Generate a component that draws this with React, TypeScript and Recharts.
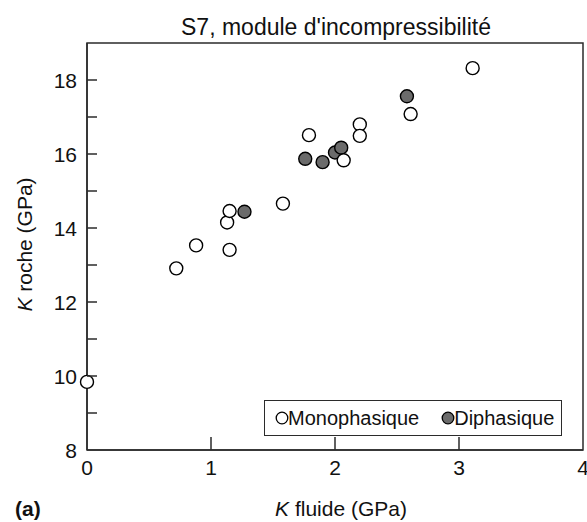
import React from "react";
import {
  ScatterChart,
  Scatter,
  XAxis,
  YAxis,
  ReferenceArea,
  Legend,
} from "recharts";

const FONT = '"Liberation Sans", Arial, Helvetica, sans-serif';

const titleText = "S7, module d'incompressibilité";
const xLabel = " fluide (GPa)";
const yLabel = " roche (GPa)";
const panelLabel = "(a)";

const monoX = [0, 0.72, 0.88, 1.15, 1.13, 1.15, 1.58, 1.79, 2.07, 2.2, 2.2, 2.61, 3.11];
const monoY = [9.84, 12.91, 13.53, 13.41, 14.15, 14.46, 14.66, 16.51, 15.83, 16.8, 16.49, 17.08, 18.32];
const diX = [1.27, 1.76, 1.9, 2.0, 2.05, 2.58];
const diY = [14.44, 15.87, 15.78, 16.04, 16.17, 17.56];

const xTicks = [0, 1, 2, 3, 4];
const yTicks = [8, 9, 10, 11, 12, 13, 14, 15, 16, 17, 18];
const xDomain = [0, 4];
const yDomain = [8, 19];

const monoData = monoX.map((x, i) => ({ x, y: monoY[i] }));
const diData = diX.map((x, i) => ({ x, y: diY[i] }));

const AXIS = "#2b2b2b";
const DARK = "#6b6b6b";

const XTick = (props: any) => {
  const { x, y, payload } = props;
  const v = payload.value;
  return (
    <g>
      {v > 0 && v < 4 && (
        <line x1={x} x2={x} y1={y} y2={y - 13} stroke={AXIS} strokeWidth={1.5} />
      )}
      <text x={x} y={y + 25} textAnchor="middle" fontSize={21} fontFamily={FONT} fill="#111">
        {v}
      </text>
    </g>
  );
};

const YTick = (props: any) => {
  const { x, y, payload } = props;
  const v = payload.value;
  return (
    <g>
      {v > 8 && (
        <line x1={x} x2={x + 10} y1={y} y2={y} stroke={AXIS} strokeWidth={1.5} />
      )}
      {v % 2 === 0 && (
        <text x={x - 10} y={y} dy="0.36em" textAnchor="end" fontSize={21} fontFamily={FONT} fill="#111">
          {v}
        </text>
      )}
    </g>
  );
};

const Dot = (fill: string) => (props: any) => {
  const { cx, cy } = props;
  if (cx == null || cy == null) return null;
  return <circle cx={cx} cy={cy} r={6.5} fill={fill} stroke="#000" strokeWidth={1.4} />;
};

const TitleContent = (props: any) => {
  const vb = props.viewBox || {};
  return (
    <text
      x={vb.x + vb.width / 2 + 1}
      y={vb.y - 8}
      textAnchor="middle"
      fontSize={23}
      fontFamily={FONT}
      fill="#111"
    >
      {titleText}
    </text>
  );
};

const XLabelContent = (props: any) => {
  const vb = props.viewBox || {};
  const by = vb.y + 66;
  return (
    <g>
      <text x={vb.x + vb.width / 2 + 6} y={by} textAnchor="middle" fontSize={21} fontFamily={FONT} fill="#111">
        <tspan fontStyle="italic">K</tspan>
        {xLabel}
      </text>
      <text x={15} y={by} fontSize={21} fontWeight="bold" fontFamily={FONT} fill="#111">
        {panelLabel}
      </text>
    </g>
  );
};

const YLabelContent = (props: any) => {
  const vb = props.viewBox || {};
  const cy = vb.y + vb.height / 2 - 2;
  const cx = 32;
  return (
    <text
      x={cx}
      y={cy}
      transform={`rotate(-90 ${cx} ${cy})`}
      textAnchor="middle"
      fontSize={21}
      fontFamily={FONT}
      fill="#111"
    >
      <tspan fontStyle="italic">K</tspan>
      {yLabel}
    </text>
  );
};

const LegendContent = () => (
  <div
    style={{
      boxSizing: "border-box",
      width: "100%",
      height: "100%",
      border: `1.5px solid ${AXIS}`,
      background: "#fff",
      display: "flex",
      alignItems: "center",
      fontFamily: FONT,
      fontSize: 20,
      color: "#111",
      paddingLeft: 10,
    }}
  >
    <svg width={14} height={14} style={{ marginRight: -1 }}>
      <circle cx={7} cy={7} r={5.8} fill="#fff" stroke="#000" strokeWidth={1.3} />
    </svg>
    <span>Monophasique</span>
    <svg width={14} height={14} style={{ marginLeft: 22, marginRight: -1 }}>
      <circle cx={7} cy={7} r={5.8} fill={DARK} stroke="#000" strokeWidth={1.3} />
    </svg>
    <span>Diphasique</span>
  </div>
);

export default function App() {
  return (
    <div style={{ position: "absolute", left: 0, top: 0, background: "#fff" }}>
      <ScatterChart
        width={587}
        height={522}
        margin={{ top: 43, right: 4, bottom: 42, left: 27 }}
      >
        <XAxis
          type="number"
          dataKey="x"
          domain={xDomain}
          ticks={xTicks}
          tickSize={0}
          tickMargin={0}
          tickLine={false}
          tick={<XTick />}
          axisLine={{ stroke: AXIS, strokeWidth: 1.5 }}
          height={30}
          interval={0}
          label={{ content: <XLabelContent /> } as any}
        />
        <YAxis
          type="number"
          dataKey="y"
          domain={yDomain}
          ticks={yTicks}
          tickSize={0}
          tickMargin={0}
          tickLine={false}
          tick={<YTick />}
          axisLine={{ stroke: AXIS, strokeWidth: 1.5 }}
          width={60}
          interval={0}
          label={{ content: <YLabelContent /> } as any}
        />
        <ReferenceArea
          x1={xDomain[0]}
          x2={xDomain[1]}
          y1={yDomain[0]}
          y2={yDomain[1]}
          fill="none"
          fillOpacity={0}
          stroke={AXIS}
          strokeWidth={1.5}
          ifOverflow="visible"
          label={{ content: <TitleContent /> } as any}
        />
        <Scatter
          name="Diphasique"
          data={diData}
          isAnimationActive={false}
          shape={Dot(DARK)}
        />
        <Scatter
          name="Monophasique"
          data={monoData}
          isAnimationActive={false}
          shape={Dot("#fff")}
        />
        <Legend
          layout="horizontal"
          verticalAlign="middle"
          align="center"
          content={<LegendContent />}
          wrapperStyle={{ position: "absolute", left: 264, top: 400, width: 298, height: 36, margin: 0, padding: 0 }}
        />
      </ScatterChart>
    </div>
  );
}
